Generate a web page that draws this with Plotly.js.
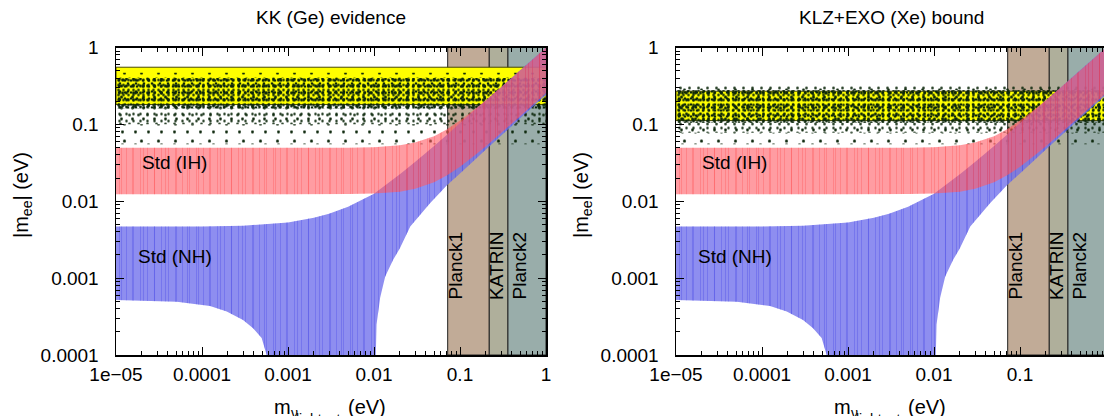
<!DOCTYPE html>
<html><head><meta charset="utf-8">
<script src="https://cdn.plot.ly/plotly-3.0.1.min.js"></script>
<style>html,body{margin:0;padding:0;background:#fff;}#chart{width:1104px;height:416px;}</style>
</head><body><div id="chart"></div>
<script>
// ---------- data ----------
const panelTitles = ['KK (Ge) evidence', 'KLZ+EXO (Xe) bound'];
const xTickVals = [1e-5, 1e-4, 1e-3, 1e-2, 1e-1, 1];
const xTickText = ['1e\u221205', '0.0001', '0.001', '0.01', '0.1', '1'];
const yTickVals = [1e-4, 1e-3, 1e-2, 1e-1, 1];
const yTickText = ['0.0001', '0.001', '0.01', '0.1', '1'];

// experimental |m_ee| band (yellow): [low, high] per panel
const yellowBandLeft = [0.181, 0.554];
const yellowBandRight = [0.112, 0.27];

// scattered-point cloud, layers [low, high] (dense core, upper fringe, lower fringe, far fringe)
const dotLayersLeft = [[0.16, 0.40], [0.40, 0.47], [0.10, 0.16], [0.055, 0.10]];
const dotLayersRight = [[0.105, 0.28], [0.28, 0.33], [0.078, 0.105], [0.055, 0.078]];

// cosmology / KATRIN exclusion regions (lower edge in m_lightest)
const boundNames = ['Planck1', 'KATRIN', 'Planck2'];
const boundEdges = [0.0719, 0.219, 0.361, 1];

// inverted hierarchy band
const ihX = [1e-5, 1e-3, 0.005, 0.01, 0.02, 0.03, 0.05, 0.07, 0.1, 0.15, 0.2, 0.3, 0.5, 0.7, 1];
const ihUpper = [0.0495, 0.0495, 0.0498, 0.0505, 0.0535, 0.058, 0.070, 0.086, 0.112, 0.158, 0.206, 0.304, 0.502, 0.70, 1.0];
const ihLower = [0.0123, 0.0123, 0.0124, 0.0126, 0.0133, 0.0145, 0.0177, 0.0217, 0.028, 0.040, 0.052, 0.077, 0.128, 0.178, 0.255];

// normal hierarchy band
const nhUpX = [1e-5, 1e-4, 3e-4, 1e-3, 2e-3, 3e-3, 5e-3, 0.01, 0.02, 0.03, 0.05, 0.07, 0.1, 0.15, 0.2, 0.3, 0.5, 0.7, 1];
const nhUpper = [0.00468, 0.00468, 0.0048, 0.0053, 0.0061, 0.0069, 0.0085, 0.0125, 0.0225, 0.0325, 0.0525, 0.073, 0.104, 0.155, 0.206, 0.305, 0.505, 0.705, 1.0];
const nhLowX = [1e-5, 5.1e-5, 1.24e-4, 1.94e-4, 3.0e-4, 3.9e-4, 4.94e-4, 5.65e-4, 5.8e-4, 0.0103, 0.0105, 0.0107, 0.0118, 0.0135, 0.0167, 0.02, 0.0264, 0.0448, 0.07, 0.1, 0.15, 0.2, 0.3, 0.5, 0.7, 1];
const nhLower = [0.00052, 0.000494, 0.000435, 0.000367, 0.000286, 0.000225, 0.000167, 0.0001, 1e-6, 1e-6, 0.0001, 0.00025, 0.00056, 0.00105, 0.00173, 0.00245, 0.0047, 0.0094, 0.016, 0.023, 0.035, 0.047, 0.071, 0.12, 0.168, 0.24];

// text labels: [x, y]
const ihLabel = {text: 'Std (IH)', x: 4.85e-5, y: 0.0315};
const nhLabel = {text: 'Std (NH)', x: 4.8e-5, y: 0.00189};
const boundLabelX = [0.0887, 0.269, 0.492];
const boundLabelBottom = 0.00049;

// ---------- styles ----------
const FONT = 'Liberation Sans, Arial, Helvetica, sans-serif';
const fnt = {family: FONT, size: 19, color: '#000'};
const boundColors = ['#c1ab97', '#afaf9b', '#99adaa'];
const dotColor = '#0b260a';
const dotStyles = [
  [{size: 5, solidity: 0.2}, {size: 6, solidity: 0.16}, {size: 7, solidity: 0.13}, {size: 8, solidity: 0.09}, {size: 11, solidity: 0.06}, {size: 13, solidity: 0.04}],
  [{size: 9, solidity: 0.07}, {size: 13, solidity: 0.04}, {size: 17, solidity: 0.025}],
  [{size: 7, solidity: 0.1}, {size: 9, solidity: 0.07}, {size: 11, solidity: 0.05}],
  [{size: 13, solidity: 0.04}, {size: 17, solidity: 0.025}]
];
const nhColor = 'rgba(110,110,236,0.78)';
const ihColor = 'rgba(255,90,100,0.6)';
const stripe = {nh: 'rgba(70,70,230,0.35)', ih: 'rgba(255,40,40,0.22)'};

const panels = [
  {xa: 'x', ya: 'y', yellow: yellowBandLeft, dots: dotLayersLeft},
  {xa: 'x2', ya: 'y2', yellow: yellowBandRight, dots: dotLayersRight}
];

function rect(x0, x1, y0, y1) {
  return {x: [x0, x1, x1, x0, x0], y: [y0, y0, y1, y1, y0]};
}
function bandTraces(xa, ya, xs, ys, color, stripeColor) {
  const out = [{x: xs, y: ys, xaxis: xa, yaxis: ya, type: 'scatter', mode: 'none', fill: 'toself',
    fillcolor: color, hoverinfo: 'skip', showlegend: false}];
  [{size: 7, solidity: 0.14}, {size: 11, solidity: 0.1}].forEach(st => {
    out.push({x: xs, y: ys, xaxis: xa, yaxis: ya, type: 'scatter', mode: 'none', fill: 'toself',
      fillcolor: 'rgba(0,0,0,0)',
      fillpattern: {shape: '|', fgcolor: stripeColor, bgcolor: 'rgba(0,0,0,0)', size: st.size, solidity: st.solidity},
      hoverinfo: 'skip', showlegend: false});
  });
  return out;
}

const traces = [];
panels.forEach(p => {
  for (let i = 0; i < boundNames.length; i++) {
    const r = rect(boundEdges[i], boundEdges[i + 1], 1e-4, 1);
    traces.push({x: r.x, y: r.y, xaxis: p.xa, yaxis: p.ya, type: 'scatter', mode: 'lines',
      fill: 'toself', fillcolor: boundColors[i], line: {color: '#222', width: 1},
      hoverinfo: 'skip', showlegend: false});
  }
  const yb = rect(1e-5, 1, p.yellow[0], p.yellow[1]);
  traces.push({x: yb.x, y: yb.y, xaxis: p.xa, yaxis: p.ya, type: 'scatter', mode: 'lines',
    fill: 'toself', fillcolor: '#ffff00', line: {color: '#4a4a00', width: 1},
    hoverinfo: 'skip', showlegend: false});
  p.dots.forEach((layer, li) => {
    dotStyles[li].forEach(st => {
      const r = rect(1e-5, 1, layer[0], layer[1]);
      traces.push({x: r.x, y: r.y, xaxis: p.xa, yaxis: p.ya, type: 'scatter', mode: 'none',
        fill: 'toself', fillcolor: 'rgba(0,0,0,0)',
        fillpattern: {shape: '.', fgcolor: dotColor, bgcolor: 'rgba(0,0,0,0)', size: st.size, solidity: st.solidity},
        hoverinfo: 'skip', showlegend: false});
    });
  });
  bandTraces(p.xa, p.ya, nhUpX.concat(nhLowX.slice().reverse()), nhUpper.concat(nhLower.slice().reverse()),
    nhColor, stripe.nh).forEach(t => traces.push(t));
  bandTraces(p.xa, p.ya, ihX.concat(ihX.slice().reverse()), ihUpper.concat(ihLower.slice().reverse()),
    ihColor, stripe.ih).forEach(t => traces.push(t));
});

const minorX = [], minorY = [];
for (let e = -5; e < 0; e++) for (let k = 2; k <= 9; k++) minorX.push(k * Math.pow(10, e));
for (let e = -4; e < 0; e++) for (let k = 2; k <= 9; k++) minorY.push(k * Math.pow(10, e));

function axisBase() {
  return {type: 'log', showgrid: false, zeroline: false, showline: true, linecolor: '#000', linewidth: 1.5,
    ticks: 'inside', ticklen: 8, tickwidth: 1, tickcolor: '#000', tickmode: 'array', tickfont: fnt, fixedrange: true};
}
const W = 1104, H = 416;
const yDom = [1 - 355 / H, 1 - 47.5 / H];
const x1Dom = [116 / W, 546 / W];
const x2Dom = [676 / W, 1];
const x2Max = -5 + (1104 - 676) / 86;

const layout = {
  width: W, height: H, margin: {l: 0, r: 0, t: 0, b: 0},
  paper_bgcolor: '#fff', plot_bgcolor: '#fff', showlegend: false, font: fnt,
  xaxis: Object.assign(axisBase(), {domain: x1Dom, range: [-5, 0], anchor: 'y', mirror: 'ticks',
    tickvals: xTickVals, ticktext: xTickText, ticklabelstandoff: 2,
    minor: {ticks: 'inside', ticklen: 4, tickcolor: '#000', tickmode: 'array', tickvals: minorX}}),
  yaxis: Object.assign(axisBase(), {domain: yDom, range: [-4, 0], anchor: 'x', mirror: 'ticks',
    tickvals: yTickVals, ticktext: yTickText, ticklabelstandoff: 12,
    minor: {ticks: 'inside', ticklen: 4, tickcolor: '#000', tickmode: 'array', tickvals: minorY}}),
  xaxis2: Object.assign(axisBase(), {domain: x2Dom, range: [-5, x2Max], anchor: 'y2', mirror: 'ticks',
    tickvals: xTickVals, ticktext: xTickText, ticklabelstandoff: 2,
    minor: {ticks: 'inside', ticklen: 4, tickcolor: '#000', tickmode: 'array', tickvals: minorX}}),
  yaxis2: Object.assign(axisBase(), {domain: yDom, range: [-4, 0], anchor: 'x2', mirror: false,
    tickvals: yTickVals, ticktext: yTickText, ticklabelstandoff: 12,
    minor: {ticks: 'inside', ticklen: 4, tickcolor: '#000', tickmode: 'array', tickvals: minorY}}),
  annotations: []
};

const A = layout.annotations;
const titleCenters = [331, 891];
const bigFont = {family: FONT, size: 20, color: '#000'};
const subFont = {family: FONT, size: 14, color: '#000'};
panelTitles.forEach((t, i) => {
  const off = 560 * i;
  A.push({text: t, xref: 'paper', yref: 'paper', x: titleCenters[i] / W, y: 1 - 18 / H,
    xanchor: 'center', yanchor: 'middle', showarrow: false, font: fnt});
  A.push({text: '|m<sub>ee</sub>| (eV)', xref: 'paper', yref: 'paper', x: (22 + off) / W, y: 1 - 195 / H,
    xanchor: 'center', yanchor: 'middle', textangle: -90, showarrow: false, font: bigFont});
  // x title: m, subscript nu, sub-subscript "lightest", then (eV)
  A.push({text: 'm', xref: 'paper', yref: 'paper', x: (272 + off) / W, y: 1 - 394 / H,
    xanchor: 'left', yanchor: 'top', showarrow: false, font: bigFont});
  A.push({text: '\u03bd', xref: 'paper', yref: 'paper', x: (289 + off) / W, y: 1 - 403 / H,
    xanchor: 'left', yanchor: 'top', showarrow: false, font: subFont});
  A.push({text: 'lightest', xref: 'paper', yref: 'paper', x: (294 + off) / W, y: 1 - 409 / H,
    xanchor: 'left', yanchor: 'top', showarrow: false, font: subFont});
  A.push({text: '(eV)', xref: 'paper', yref: 'paper', x: (346 + off) / W, y: 1 - 394 / H,
    xanchor: 'left', yanchor: 'top', showarrow: false, font: bigFont});
});
panels.forEach(p => {
  [ihLabel, nhLabel].forEach(l => {
    A.push({text: l.text, xref: p.xa, yref: p.ya, x: Math.log10(l.x), y: Math.log10(l.y),
      xanchor: 'center', yanchor: 'middle', showarrow: false, font: fnt});
  });
  boundNames.forEach((n, i) => {
    A.push({text: n, xref: p.xa, yref: p.ya, x: Math.log10(boundLabelX[i]), y: Math.log10(boundLabelBottom),
      xanchor: 'center', yanchor: 'bottom', textangle: -90, showarrow: false, font: fnt});
  });
});

Plotly.newPlot('chart', traces, layout, {staticPlot: true, displayModeBar: false});
</script></body></html>
